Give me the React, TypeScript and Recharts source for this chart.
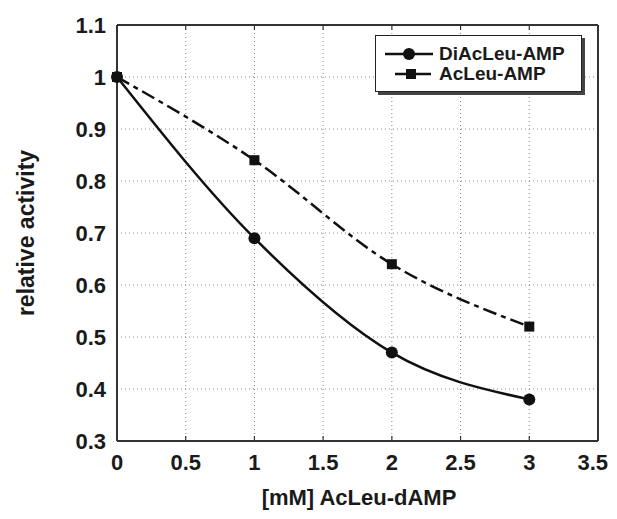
import React from 'react';
import { LineChart, Line, XAxis, YAxis, CartesianGrid } from 'recharts';

const concentration = [0, 1, 2, 3];
const diAcLeuAMP = [1, 0.69, 0.47, 0.38];
const acLeuAMP = [1, 0.84, 0.64, 0.52];
const xTicks = [0, 0.5, 1, 1.5, 2, 2.5, 3, 3.5];
const yTicks = [0.3, 0.4, 0.5, 0.6, 0.7, 0.8, 0.9, 1, 1.1];
const seriesNames = ['DiAcLeu-AMP', 'AcLeu-AMP'];
const xLabel = '[mM] AcLeu-dAMP';
const yLabel = 'relative activity';

const data = concentration.map((c, i) => ({ c, di: diAcLeuAMP[i], ac: acLeuAMP[i] }));

const FONT = '"Liberation Sans", Arial, Helvetica, sans-serif';
const tickStyle = { fontFamily: FONT, fontWeight: 700, fontSize: 22, fill: '#1a1a1a' };

const Square = (props: any) => {
  const { cx, cy } = props;
  if (cx == null || cy == null) return <g />;
  return <rect x={cx - 5} y={cy - 5} width={10} height={10} fill="#111" />;
};
const Dot = (props: any) => {
  const { cx, cy } = props;
  if (cx == null || cy == null) return <g />;
  return <circle cx={cx} cy={cy} r={6} fill="#111" />;
};

const XTick = (props: any) => {
  const { x, y, payload, index } = props;
  const last = payload.value === xTicks[xTicks.length - 1];
  return (
    <text x={last ? x + 10 : x} y={y} dy="0.71em" textAnchor={last ? 'end' : 'middle'} style={tickStyle}>
      {String(payload.value)}
    </text>
  );
};

const Empty = () => <g />;

const YLab = () => (
  <text x={18} y={225} transform="rotate(-90 18 225)" textAnchor="middle" dominantBaseline="central"
    style={{ fontFamily: FONT, fontWeight: 700, fontSize: 23, fill: '#1a1a1a' }}>{yLabel}</text>
);
const XLab = () => (
  <text x={351} y={489} textAnchor="middle" dominantBaseline="central"
    style={{ fontFamily: FONT, fontWeight: 700, fontSize: 22, fill: '#1a1a1a' }}>{xLabel}</text>
);

const fmt = (v: number) => String(v);
const frame = { stroke: '#333', strokeWidth: 2 };
const tickLn = { stroke: '#333', strokeWidth: 1.2 };

export default function App() {
  return (
    <div style={{ position: 'relative', width: 601, height: 503 }}>
      <LineChart width={601} height={503} data={data} margin={{ top: 17, right: 11, bottom: 30, left: 49 }}>
        <CartesianGrid stroke="#888" strokeDasharray="1 3" strokeWidth={1} />
        <XAxis dataKey="c" type="number" domain={[0, 3.5]} ticks={xTicks}
          height={40} axisLine={frame} tickLine={false} tickMargin={7}
          tick={<XTick />} label={<XLab />} interval={0} />
        <XAxis xAxisId="bIn" orientation="bottom" mirror dataKey="c" type="number" domain={[0, 3.5]} ticks={xTicks}
          axisLine={false} tickLine={tickLn} tickSize={5} tick={<Empty />} interval={0} />
        <XAxis xAxisId="top" orientation="top" mirror dataKey="c" type="number" domain={[0, 3.5]} ticks={xTicks}
          axisLine={frame} tickLine={tickLn} tickSize={5} tick={<Empty />} interval={0} />
        <YAxis type="number" domain={[0.3, 1.1]} ticks={yTicks} tickFormatter={fmt} width={60}
          axisLine={frame} tickLine={false} tickMargin={5}
          tick={tickStyle} label={<YLab />} interval={0} />
        <YAxis yAxisId="lIn" orientation="left" mirror type="number" domain={[0.3, 1.1]} ticks={yTicks}
          axisLine={false} tickLine={tickLn} tickSize={5} tick={<Empty />} interval={0} />
        <YAxis yAxisId="right" orientation="right" mirror type="number" domain={[0.3, 1.1]} ticks={yTicks}
          axisLine={frame} tickLine={tickLn} tickSize={5} tick={<Empty />} interval={0} />
        <Line type="monotone" dataKey="ac" name={seriesNames[1]} stroke="#111" strokeWidth={2.5}
          strokeDasharray="14 5 5 5" dot={<Square />} isAnimationActive={false} />
        <Line type="monotone" dataKey="di" name={seriesNames[0]} stroke="#111" strokeWidth={2.5}
          dot={<Dot />} isAnimationActive={false} />
      </LineChart>
      <div style={{
        position: 'absolute', left: 367, top: 27, width: 207, height: 57,
        border: '1.5px solid #222', background: '#fff', boxShadow: '3px 3px 0 #444',
        fontFamily: FONT, fontWeight: 700, fontSize: 19, color: '#1a1a1a', boxSizing: 'border-box'
      }}>
        <div style={{ position: 'absolute', left: 9, top: 7, display: 'flex', alignItems: 'center', height: 22 }}>
          <svg width={50} height={20} style={{ display: 'block' }}><line x1={0} y1={10} x2={48} y2={10} stroke="#111" strokeWidth={2.5} /><circle cx={24} cy={10} r={6} fill="#111" /></svg>
          <span style={{ marginLeft: 4, lineHeight: '22px' }}>{seriesNames[0]}</span>
        </div>
        <div style={{ position: 'absolute', left: 9, top: 27, display: 'flex', alignItems: 'center', height: 22 }}>
          <svg width={50} height={20} style={{ display: 'block' }}><line x1={10} y1={10} x2={46} y2={10} stroke="#111" strokeWidth={2.5} /><rect x={21} y={5} width={10} height={10} fill="#111" /></svg>
          <span style={{ marginLeft: 4, lineHeight: '22px' }}>{seriesNames[1]}</span>
        </div>
      </div>
    </div>
  );
}
